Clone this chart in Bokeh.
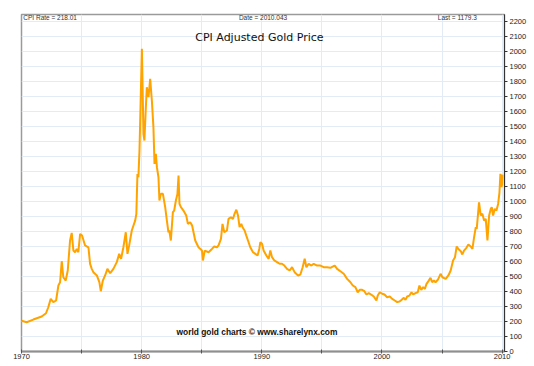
from bokeh.plotting import figure
from bokeh.models import Range1d, FixedTicker, SingleIntervalTicker, Label
from bokeh.embed import file_html
from bokeh.resources import INLINE

# ---- data ----
years = [1970.0, 1970.43, 1970.98, 1971.68, 1972.04, 1972.23, 1972.43, 1972.65, 1972.88, 1973.07,
         1973.21, 1973.35, 1973.48, 1973.68, 1973.85, 1974.04, 1974.18, 1974.32, 1974.46, 1974.6,
         1974.73, 1974.88, 1975.04, 1975.29, 1975.57, 1975.71, 1975.85, 1975.98, 1976.27, 1976.48,
         1976.6, 1976.77, 1976.96, 1977.15, 1977.38, 1977.65, 1977.93, 1978.13, 1978.29, 1978.48,
         1978.68, 1978.82, 1978.96, 1979.18, 1979.32, 1979.46, 1979.56, 1979.65, 1979.73, 1979.82,
         1980.02, 1980.15, 1980.23, 1980.35, 1980.43, 1980.57, 1980.71, 1980.85, 1980.98, 1981.07,
         1981.18, 1981.27, 1981.4, 1981.48, 1981.6, 1981.77, 1981.96, 1982.1, 1982.23, 1982.3,
         1982.43, 1982.6, 1982.71, 1982.85, 1982.98, 1983.07, 1983.15, 1983.27, 1983.48, 1983.71,
         1983.85, 1984.04, 1984.2, 1984.46, 1984.73, 1985.02, 1985.1, 1985.25, 1985.57, 1985.85,
         1986.04, 1986.27, 1986.4, 1986.6, 1986.73, 1986.88, 1987.1, 1987.23, 1987.43, 1987.6,
         1987.73, 1987.88, 1988.02, 1988.15, 1988.29, 1988.4, 1988.57, 1988.71, 1988.85, 1989.04,
         1989.27, 1989.46, 1989.65, 1989.79, 1989.88, 1990.02, 1990.15, 1990.38, 1990.57, 1990.71,
         1990.85, 1991.04, 1991.27, 1991.48, 1991.68, 1991.88, 1992.1, 1992.32, 1992.52, 1992.73,
         1993.02, 1993.21, 1993.4, 1993.57, 1993.71, 1993.9, 1994.13, 1994.32, 1994.6, 1994.88,
         1995.15, 1995.43, 1995.71, 1995.93, 1996.07, 1996.27, 1996.54, 1996.82, 1997.1, 1997.38,
         1997.57, 1997.79, 1997.98, 1998.15, 1998.35, 1998.54, 1998.71, 1998.9, 1999.1, 1999.32,
         1999.54, 1999.65, 1999.82, 2000.02, 2000.21, 2000.43, 2000.65, 2000.85, 2001.07, 2001.27,
         2001.46, 2001.62, 2001.82, 2001.96, 2002.1, 2002.29, 2002.46, 2002.6, 2002.79, 2002.98,
         2003.12, 2003.27, 2003.43, 2003.57, 2003.71, 2003.9, 2004.04, 2004.18, 2004.32, 2004.46,
         2004.65, 2004.88, 2005.03, 2005.31, 2005.53, 2005.72, 2005.92, 2006.08, 2006.22, 2006.36,
         2006.56, 2006.69, 2006.83, 2007.03, 2007.19, 2007.39, 2007.53, 2007.67, 2007.81, 2007.89,
         2008.08, 2008.22, 2008.36, 2008.5, 2008.64, 2008.78, 2008.92, 2009.06, 2009.14, 2009.25,
         2009.39, 2009.53, 2009.67, 2009.78, 2009.86, 2009.95, 2010.0, 2010.04]
price = [205, 195, 213, 233, 255, 295, 351, 329, 340, 440,
         462, 602, 495, 473, 540, 740, 791, 673, 662, 684,
         662, 784, 773, 707, 695, 584, 551, 529, 507, 462,
         402, 473, 507, 551, 522, 551, 596, 651, 618, 695,
         795, 651, 707, 807, 840, 873, 918, 1184, 1162, 1340,
         2018, 1451, 1407, 1629, 1762, 1696, 1818, 1673, 1496, 1251,
         1318, 1229, 1162, 1007, 1051, 1051, 962, 873, 795, 807,
         740, 929, 940, 1007, 1051, 1173, 984, 962, 940, 907,
         851, 862, 840, 740, 695, 673, 607, 673, 662, 684,
         700, 695, 707, 751, 851, 795, 807, 884, 895, 884,
         918, 945, 907, 829, 851, 829, 807, 773, 740, 695,
         662, 651, 640, 684, 729, 718, 673, 640, 618, 673,
         629, 607, 596, 585, 585, 573, 551, 540, 562, 529,
         507, 513, 562, 618, 562, 585, 573, 585, 573, 573,
         562, 562, 558, 567, 573, 551, 535, 518, 484, 462,
         440, 429, 395, 411, 411, 402, 380, 389, 380, 367,
         340, 373, 395, 385, 380, 362, 367, 351, 340, 329,
         333, 344, 358, 344, 367, 373, 395, 380, 389, 395,
         440, 411, 429, 418, 451, 473, 491, 462, 473, 462,
         478, 518, 495, 484, 507, 540, 607, 629, 700, 684,
         669, 647, 673, 691, 713, 700, 684, 762, 829, 818,
         995, 907, 918, 873, 884, 740, 907, 951, 962, 907,
         951, 940, 984, 1060, 1184, 1096, 1117, 1179]

x_labels_years = [1970, 1980, 1990, 2000, 2010]
x_minor_years = [1975, 1985, 1995, 2005]
x_grid_years = [1975, 1980, 1985, 1990, 1995, 2000, 2005, 2010]

title_text = "CPI Adjusted Gold Price"
info_left = "CPI Rate = 218.01"
info_mid = "Date = 2010.043"
info_right = "Last = 1179.3"
credit = "world gold charts \u00a9 www.sharelynx.com"

# ---- figure ----
p = figure(width=534, height=366, output_backend="svg", toolbar_location=None,
           x_range=Range1d(1970, 2010.2), y_range=Range1d(0, 2247),
           y_axis_location="right",
           min_border_left=21, min_border_top=14, min_border_right=30, min_border_bottom=15)
# thin green frame round the whole picture (drawn just inside the figure's edge)
p.styles = {"outline": "3px solid #1e961e", "outline-offset": "-5px"}
p.background_fill_color = "white"
p.border_fill_color = "white"
p.outline_line_color = "#9a9a9a"
p.outline_line_width = 1.5

# grids
p.xgrid.ticker = FixedTicker(ticks=x_grid_years)
p.ygrid.ticker = SingleIntervalTicker(interval=100)
p.xgrid.grid_line_color = "#e3ecf6"
p.ygrid.grid_line_color = "#e3ecf6"

# x axis
xa = p.xaxis[0]
xa.ticker = FixedTicker(ticks=x_labels_years, minor_ticks=x_minor_years)
xa.axis_line_color = "#8f8f8f"
xa.axis_line_width = 2
xa.major_tick_in = 2
xa.major_tick_out = 2
xa.minor_tick_in = 2
xa.minor_tick_out = 2
xa.major_tick_line_color = "#555555"
xa.minor_tick_line_color = "#555555"
xa.major_label_standoff = 0
xa.major_label_text_font = "Liberation Sans"
xa.major_label_text_font_size = "7.5px"
xa.major_label_text_color = "#222222"

# y axis (right)
ya = p.yaxis[0]
ya.ticker = SingleIntervalTicker(interval=100, num_minor_ticks=0)
ya.axis_line_color = "#333333"
ya.major_tick_in = 0
ya.major_tick_out = 3
ya.major_tick_line_color = "#333333"
ya.minor_tick_line_color = None
ya.major_label_standoff = 2
ya.major_label_text_font = "Liberation Sans"
ya.major_label_text_font_size = "7.5px"
ya.major_label_text_color = "#222222"

# price line
p.line(years, price, line_color="#FFA300", line_width=2)

# texts
p.add_layout(Label(x=1970.15, y=2227, text=info_left, text_font="Liberation Sans",
                   text_font_size="6.5px", text_color="#333333", text_baseline="middle"))
p.add_layout(Label(x=1990.1, y=2227, text=info_mid, text_font="Liberation Sans",
                   text_font_size="6.5px", text_color="#333333", text_baseline="middle",
                   text_align="center"))
p.add_layout(Label(x=2007.9, y=2227, text=info_right, text_font="Liberation Sans",
                   text_font_size="6.5px", text_color="#333333", text_baseline="middle",
                   text_align="right"))
p.add_layout(Label(x=1989.8, y=2093, text=title_text, text_font="DejaVu Sans",
                   text_font_size="11px", text_color="#111111", text_baseline="middle",
                   text_align="center"))
p.add_layout(Label(x=1989.6, y=133, text=credit, text_font="Liberation Sans",
                   text_font_size="8.4px", text_font_style="bold", text_color="#111111",
                   text_baseline="middle", text_align="center"))

open("out.html", "w").write(file_html(p, INLINE))
